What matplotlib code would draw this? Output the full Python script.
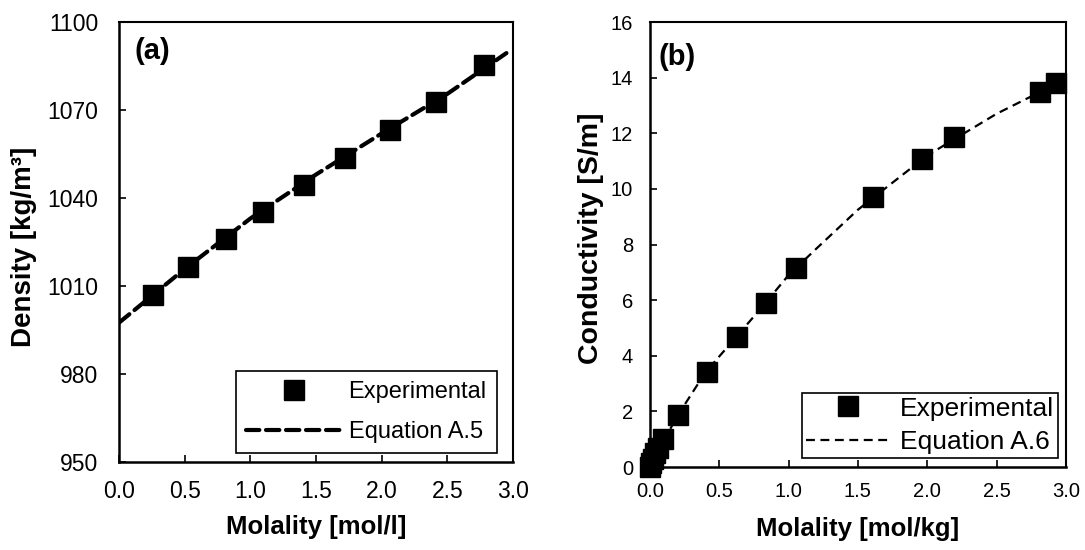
import matplotlib
matplotlib.use("Agg")
import matplotlib.pyplot as plt

plt.rcParams['font.family'] = ['Liberation Sans', 'DejaVu Sans']

# ── Data ──────────────────────────────────────────────────────────────────────
dens_m   = [0.26, 0.525, 0.815, 1.10, 1.41, 1.72, 2.06, 2.41, 2.78]
dens_exp = [1006.9, 1016.5, 1026.0, 1035.2, 1044.4, 1053.6, 1063.2, 1072.7, 1085.3]
dens_fit_m = [0.0, 0.5, 1.0, 1.5, 2.0, 2.5, 2.95]
dens_fit   = [997.5, 1015.8, 1033.0, 1048.0, 1062.0, 1075.5, 1089.4]

cond_m   = [0.0, 0.01, 0.02, 0.04, 0.06, 0.095, 0.20, 0.41, 0.625, 0.84, 1.05,
            1.61, 1.96, 2.19, 2.81, 2.93]
cond_exp = [0.0, 0.15, 0.3, 0.5, 0.7, 1.0, 1.87, 3.42, 4.68, 5.90, 7.16,
            9.71, 11.08, 11.87, 13.49, 13.81]
cond_fit_m = [0.0, 0.1, 0.2, 0.4, 0.6, 0.8, 1.0, 1.2, 1.5, 2.0, 2.5, 2.82]
cond_fit   = [0.0, 0.95, 1.85, 3.4, 4.55, 5.7, 6.9, 7.85, 9.25, 11.2, 12.7, 13.5]

XTICKS = [0.0, 0.5, 1.0, 1.5, 2.0, 2.5, 3.0]

# ── Figure ────────────────────────────────────────────────────────────────────
fig = plt.figure(figsize=(10.85, 5.5), dpi=100)
axA = fig.add_axes([0.1097, 0.16, 0.3631, 0.80])
axB = fig.add_axes([0.599, 0.1509, 0.3834, 0.8091])

def style(ax, size, ypad):
    for s in ['top', 'right']:
        ax.spines[s].set_linewidth(1.5)
    for s in ['left', 'bottom']:
        ax.spines[s].set_linewidth(1.8)
    ax.tick_params(direction='in', length=5, width=1.2, labelsize=size,
                   top=False, right=False)
    ax.tick_params(axis='x', pad=13)
    ax.tick_params(axis='y', pad=ypad)

# (a) density
axA.plot(dens_fit_m, dens_fit, color='black', lw=3, ls=(0, (3.2, 1.6)),
         dash_capstyle='round', label='Equation A.5', zorder=2)
axA.plot(dens_m, dens_exp, ls='none', marker='s', ms=14, color='black',
         label='Experimental', zorder=3)
axA.set_xlim(0, 3.0)
axA.set_ylim(950, 1100)
axA.set_xticks(XTICKS)
axA.set_yticks([950, 980, 1010, 1040, 1070, 1100])
axA.xaxis.set_major_formatter(plt.FormatStrFormatter('%.1f'))
style(axA, 16.5, 15)
axA.set_xlabel('Molality [mol/l]', fontsize=18.5, fontweight='bold')
axA.set_ylabel('Density [kg/m³]', fontsize=20, fontweight='bold')
axA.xaxis.set_label_coords(0.5, -0.12)
axA.yaxis.set_label_coords(-0.208, 0.49)
axA.text(0.04, 0.965, '(a)', transform=axA.transAxes, ha='left', va='top',
         fontsize=21, fontweight='bold')
h, l = axA.get_legend_handles_labels()
legA = axA.legend(h[::-1], l[::-1], loc='lower right',
                  bbox_to_anchor=(0.959, 0.02), fontsize=17, frameon=True,
                  fancybox=False, edgecolor='black', framealpha=1,
                  borderpad=0.43, handlelength=4.1, handletextpad=0.25,
                  labelspacing=0.77, borderaxespad=0)
legA.get_frame().set_linewidth(1.2)

# (b) conductivity
axB.plot(cond_fit_m, cond_fit, color='black', lw=1.6, ls=(0, (4, 2.5)),
         label='Equation A.6', zorder=2)
axB.plot(cond_m, cond_exp, ls='none', marker='s', ms=14, color='black',
         label='Experimental', zorder=3, clip_on=False)
axB.set_xlim(0, 3.0)
axB.set_ylim(0, 16)
axB.set_xticks(XTICKS)
axB.set_yticks(range(0, 17, 2))
axB.xaxis.set_major_formatter(plt.FormatStrFormatter('%.1f'))
style(axB, 14.5, 12)
axB.tick_params(axis='x', pad=11)
axB.set_xlabel('Molality [mol/kg]', fontsize=18.5, fontweight='bold')
axB.set_ylabel('Conductivity [S/m]', fontsize=20.5, fontweight='bold')
axB.xaxis.set_label_coords(0.5, -0.112)
axB.yaxis.set_label_coords(-0.11, 0.515)
axB.text(0.02, 0.953, '(b)', transform=axB.transAxes, ha='left', va='top',
         fontsize=21, fontweight='bold')
h, l = axB.get_legend_handles_labels()
legB = axB.legend(h[::-1], l[::-1], loc='lower right',
                  bbox_to_anchor=(0.981, 0.02), fontsize=19, frameon=True,
                  fancybox=False, edgecolor='black', framealpha=1,
                  borderpad=0.15, handlelength=3.2, handletextpad=0.35,
                  labelspacing=0.36, borderaxespad=0)
legB.get_frame().set_linewidth(1.2)

fig.savefig('out.png', dpi=100, facecolor='white')
